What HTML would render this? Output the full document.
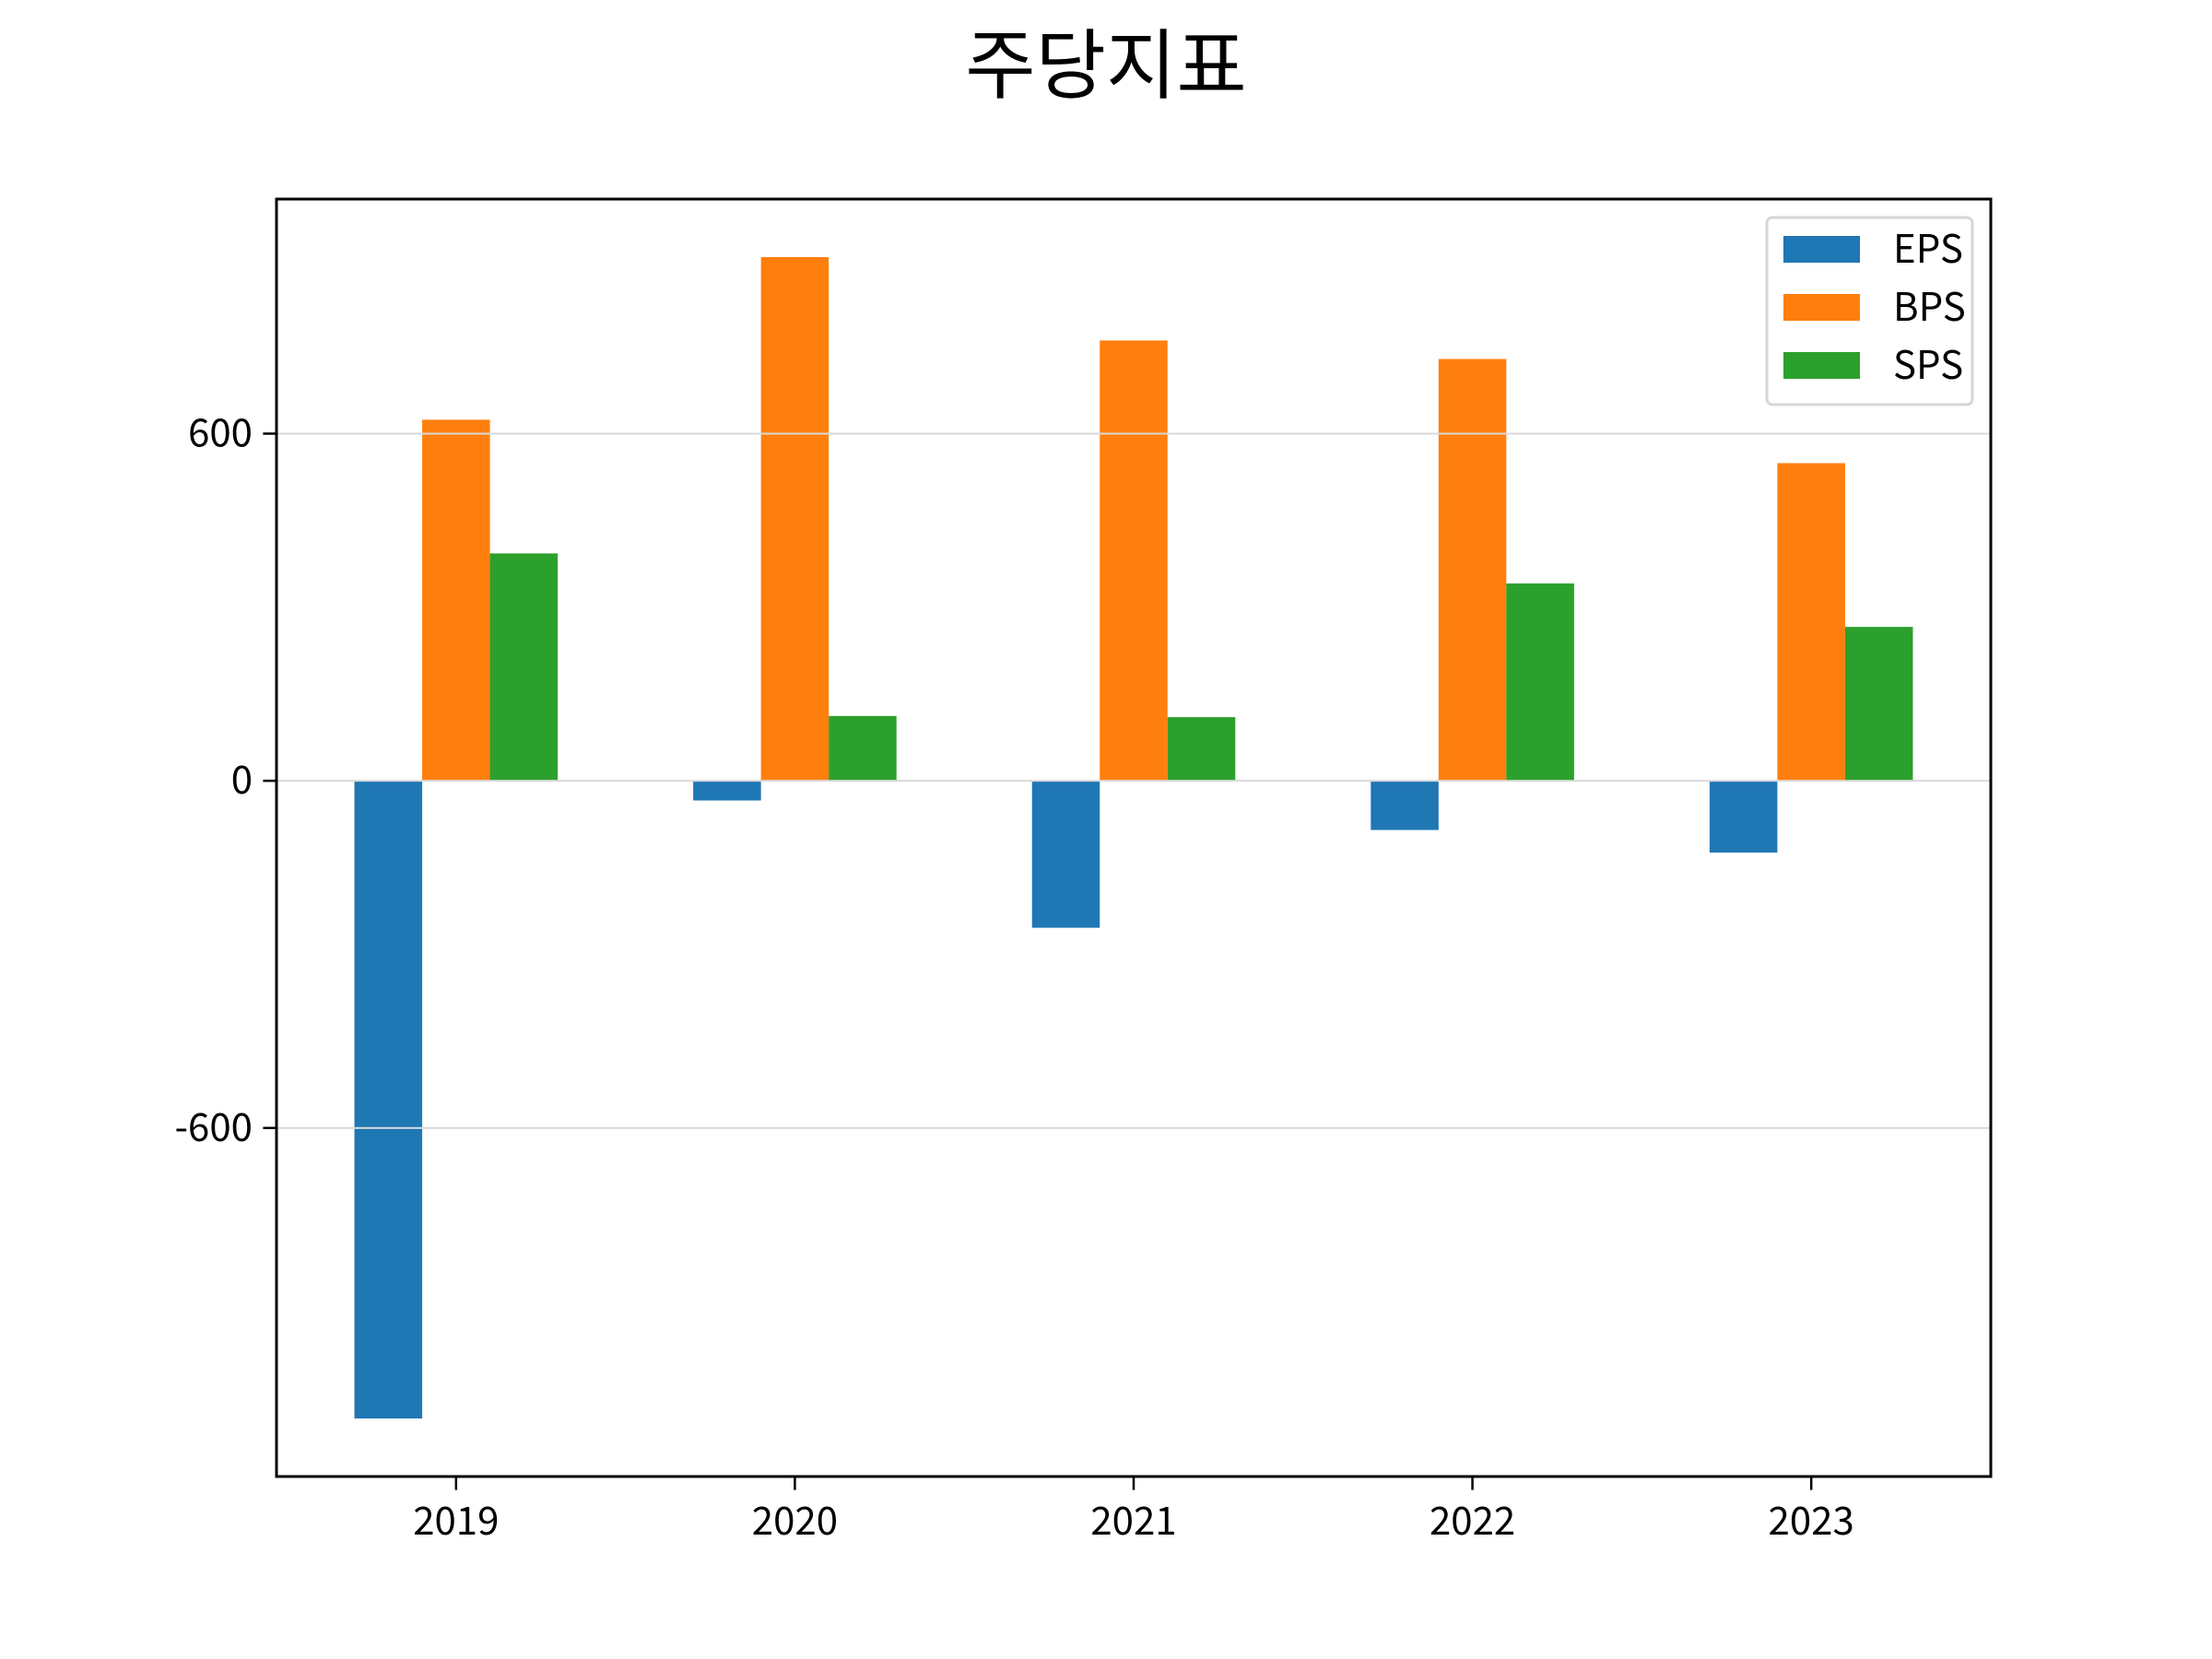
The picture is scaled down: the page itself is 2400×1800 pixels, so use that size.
<!DOCTYPE html>
<html><head><meta charset="utf-8"><style>
html,body{margin:0;padding:0;background:#fff;}
svg{display:block;font-family:"Noto Sans CJK KR","Liberation Sans","NanumGothic",sans-serif;}
</style></head><body>
<svg id="chart" width="2400" height="1800" viewBox="0 0 2400 1800" xmlns="http://www.w3.org/2000/svg">
<rect x="0" y="0" width="2400" height="1800" fill="#fff"/>
<text x="1200" y="100" text-anchor="middle" font-size="83" fill="#000">주당지표</text>
<rect x="300" y="216" width="1860" height="1386" fill="#fff"/>
<g id="grid"></g>
<g id="bars"></g>
<rect x="300" y="216" width="1860" height="1386" fill="none" stroke="#000" stroke-width="3"/>
<g id="xticks"></g>
<g id="yticks"></g>
<g>
<rect x="1917" y="236" width="223" height="203" rx="6" fill="#fff" stroke="#d6d6d6" stroke-width="3"/>
<g id="legend-items"></g>
</g>
</svg>
<script>
const categories = ["2019","2020","2021","2022","2023"];
const seriesNames = ["EPS","BPS","SPS"];
const epsValues = [-1102, -34, -254, -85, -124];
const bpsValues = [624, 905, 761, 729, 549];
const spsValues = [393, 112, 110, 341, 266];
const yTickValues = [-600, 0, 600];
const yTickLabels = ["-600","0","600"];

const NS = "http://www.w3.org/2000/svg";
const colors = ["#1f77b4","#ff7f0e","#2ca02c"];
const series = [epsValues, bpsValues, spsValues];
const L=300,R=2160,T=216,B=1602;
const allVals = series.flat().concat([0]);
const dmin=Math.min(...allVals), dmax=Math.max(...allVals);
const ymin=dmin-0.05*(dmax-dmin), ymax=dmax+0.05*(dmax-dmin);
const xmin=-0.3-0.05*(categories.length-1+0.6), xmax=categories.length-1+0.3+0.05*(categories.length-1+0.6);
const xs=v=>L+(v-xmin)/(xmax-xmin)*(R-L);
const ys=v=>B-(v-ymin)/(ymax-ymin)*(B-T);
function mk(tag,attrs,parent){const e=document.createElementNS(NS,tag);for(const k in attrs)e.setAttribute(k,attrs[k]);parent.appendChild(e);return e;}

const grid=document.getElementById('grid');
const yt=document.getElementById('yticks');
yTickValues.forEach((v,i)=>{
  const y=ys(v);
  const g=mk('line',{x1:L,x2:R,y1:y,y2:y,stroke:'#d9d9d9','stroke-width':2},grid);
  
  
  const t=mk('line',{x1:L-14.6,x2:L,y1:y,y2:y,stroke:'#000','stroke-width':2.5},yt);
  
  
  const tx=mk('text',{x:L-26,y:y+14,'text-anchor':'end','font-size':42,fill:'#000'},yt);
  tx.textContent=yTickLabels[i];
  
  
});

const bars=document.getElementById('bars');
const bw=0.2;
series.forEach((vals,s)=>{
  vals.forEach((v,i)=>{
    const cx=i+(s-1)*bw;
    const x0=xs(cx-bw/2), x1=xs(cx+bw/2);
    const y0=ys(Math.max(v,0)), y1=ys(Math.min(v,0));
    const r=mk('rect',{x:x0,y:y0,width:x1-x0,height:y1-y0,fill:colors[s]},bars);
    
    
  });
});
// gridlines drawn over bars in reference (white-ish line on bar)
bars.parentNode.insertBefore(bars,grid);

const xt=document.getElementById('xticks');
categories.forEach((c,i)=>{
  const x=xs(i);
  const t=mk('line',{x1:x,x2:x,y1:B,y2:B+14.6,stroke:'#000','stroke-width':2.5},xt);
  
  
  const tx=mk('text',{x:x,y:B+63,'text-anchor':'middle','font-size':42,fill:'#000'},xt);
  tx.textContent=c;
  
  
});

const li=document.getElementById('legend-items');
seriesNames.forEach((n,s)=>{
  const y=256+s*63;
  const p=mk('rect',{x:1935,y:y,width:83,height:29,fill:colors[s]},li);
  
  
  const t=mk('text',{x:2054,y:y+29,'font-size':42,fill:'#000'},li);
  t.textContent=n;
  
  
});
</script>
</body></html>
